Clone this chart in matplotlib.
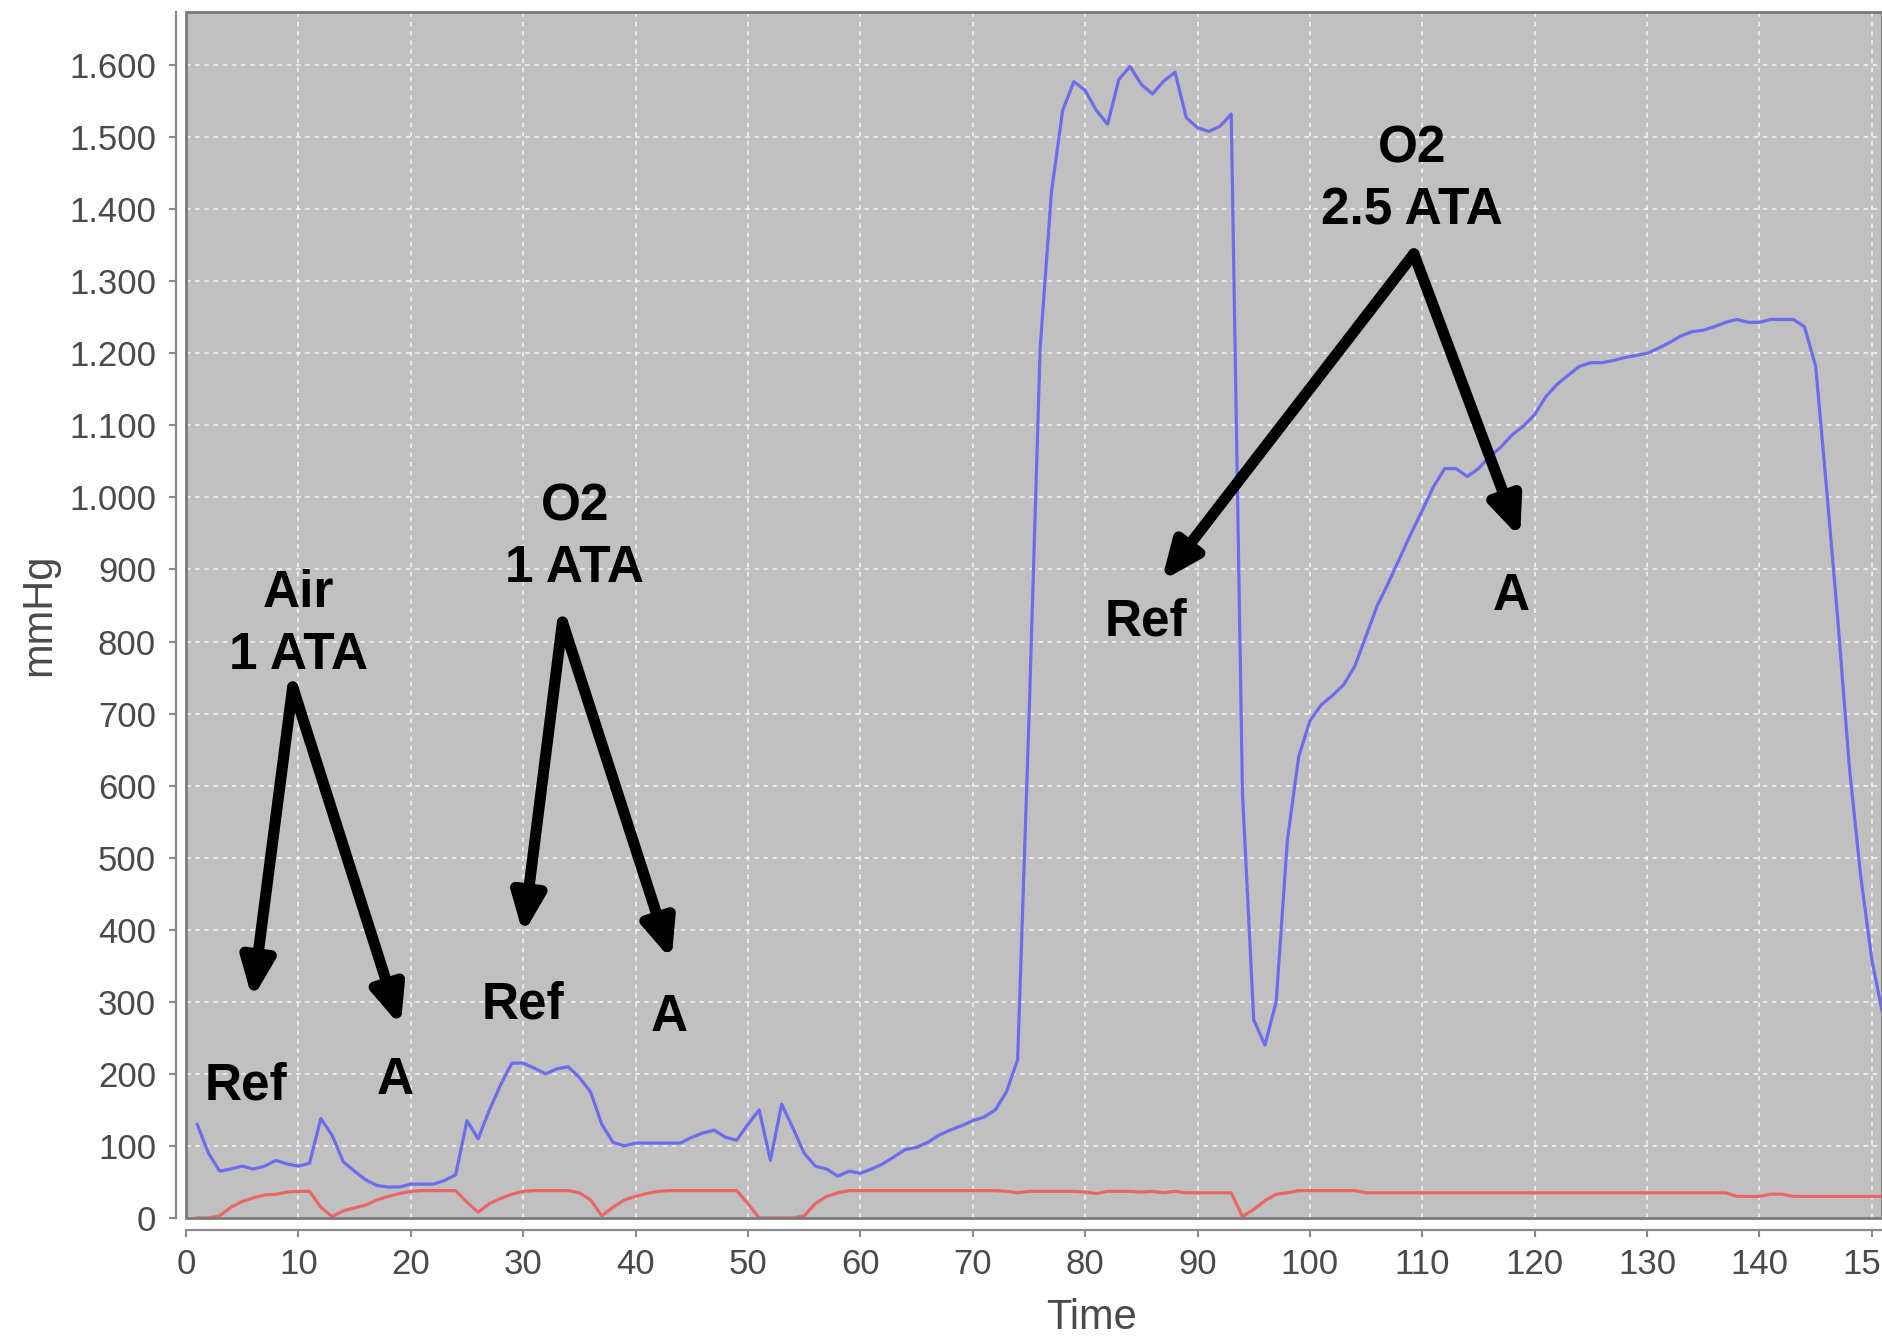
#!/usr/bin/env python

import numpy as np
import matplotlib.pyplot as plt
from matplotlib.patches import Rectangle
from matplotlib.ticker import FuncFormatter, MultipleLocator

# time steps 1..151
time = np.arange(1, 152)

blue = [130, 90, 65, 68, 72, 68, 72, 80, 75, 72,
        76, 138, 115, 78, 65, 53, 45, 43, 43, 47,
        47, 47, 52, 60, 135, 110, 150, 185, 215, 215,
        208, 200, 207, 210, 195, 175, 130, 105, 100, 104,
        104, 104, 104, 104, 112, 118, 122, 112, 108, 130,
        150, 80, 158, 125, 90, 72, 68, 58, 65, 62,
        68, 75, 85, 95, 98, 105, 115, 122, 128, 135,
        140, 150, 175, 220, 690, 1207, 1423, 1537, 1577, 1565,
        1537, 1518, 1580, 1598, 1573, 1560, 1578, 1590, 1527, 1513,
        1508, 1515, 1532, 590, 275, 240, 300, 525, 640, 690,
        712, 725, 740, 766, 808, 850, 882, 916, 950, 982,
        1015, 1040, 1040, 1029, 1040, 1057, 1070, 1087, 1099, 1115,
        1140, 1157, 1170, 1182, 1187, 1187, 1190, 1194, 1197, 1200,
        1207, 1215, 1224, 1230, 1232, 1237, 1243, 1247, 1243, 1243,
        1247, 1247, 1247, 1237, 1182, 1007, 824, 625, 475, 358,
        280]

red = [0, 0, 3, 15, 23, 28, 32, 33, 36, 37,
       37, 15, 2, 10, 14, 18, 25, 30, 34, 37,
       38, 38, 38, 38, 22, 8, 20, 27, 33, 37,
       38, 38, 38, 38, 35, 25, 3, 15, 25, 30,
       34, 37, 38, 38, 38, 38, 38, 38, 38, 20,
       0, 0, 0, 0, 3, 20, 30, 35, 38, 38,
       38, 38, 38, 38, 38, 38, 38, 38, 38, 38,
       38, 38, 37, 35, 37, 37, 37, 37, 37, 36,
       34, 37, 37, 37, 36, 37, 35, 37, 35, 35,
       35, 35, 35, 2, 12, 24, 33, 35, 38, 38,
       38, 38, 38, 38, 35, 35, 35, 35, 35, 35,
       35, 35, 35, 35, 35, 35, 35, 35, 35, 35,
       35, 35, 35, 35, 35, 35, 35, 35, 35, 35,
       35, 35, 35, 35, 35, 35, 35, 30, 30, 30,
       33, 33, 30, 30, 30, 30, 30, 30, 30, 30,
       30]

# annotation groups: (title, title_pos, arrow_start, ref_tip, a_tip, ref_pos, a_pos)
notes = [
    ('Air\n1 ATA', (10.0, 824), (9.5, 737), (5.9, 304), (19.1, 266), (5.3, 183), (18.6, 191)),
    ('O2\n1 ATA', (34.6, 944), (33.5, 827), (30.0, 394), (43.2, 358), (30.0, 296), (43.0, 278)),
    ('O2\n2.5 ATA', (109.1, 1441), (109.25, 1338), (86.8, 884), (118.7, 944), (85.4, 827), (117.9, 862)),
]

fig = plt.figure(figsize=(18.82, 13.37), dpi=100)
ax = fig.add_axes([0.0988, 0.089, 0.9012, 0.902])
ax.set_facecolor('#c0c0c0')

ax.plot(time, blue, color='#6c6cec', lw=2.3, zorder=3)
ax.plot(time, red, color='#ea6666', lw=2.3, zorder=3)

ax.set_xlim(0, 150.9)
ax.set_ylim(0, 1673.6)
ax.xaxis.set_major_locator(MultipleLocator(10))
ax.yaxis.set_major_locator(MultipleLocator(100))
ax.yaxis.set_major_formatter(FuncFormatter(lambda v, p: '{:,}'.format(int(v)).replace(',', '.')))

ax.grid(True, color='white', lw=1.1, ls=(0, (3, 3)), alpha=0.85, zorder=1)
ax.set_axisbelow(True)

for s in ['top', 'right']:
    ax.spines[s].set_visible(False)
ax.spines['left'].set_position(('outward', 7.5))
ax.spines['bottom'].set_position(('outward', 8.5))
for s in ['left', 'bottom']:
    ax.spines[s].set_color('#8a8a8a')
    ax.spines[s].set_linewidth(1.6)

# frame around the plot area
ax.add_patch(Rectangle((0, 0), 1, 1, transform=ax.transAxes, fill=False,
                       edgecolor='#7a7a7a', lw=2.0, clip_on=False, zorder=4))

ax.tick_params(axis='both', colors='#8a8a8a', length=5, width=1.5,
               labelsize=25, labelcolor='#4a4a4a')
ax.tick_params(axis='y', pad=9)
ax.tick_params(axis='x', pad=8)
for lab in ax.get_xticklabels() + ax.get_yticklabels():
    lab.set_family('Liberation Sans')

ax.set_xlabel('Time', fontsize=30, color='#4a4a4a', family='Liberation Sans')
ax.set_ylabel('mmHg', fontsize=30, color='#4a4a4a', family='Liberation Sans')
ax.xaxis.set_label_coords(0.534, -0.066)
ax.yaxis.set_label_coords(-0.0745, 0.5)

arrow_style = dict(arrowstyle='-|>,head_length=0.75,head_width=0.32',
                   color='black', lw=8, mutation_scale=30,
                   shrinkA=0, shrinkB=0)
txt = dict(fontsize=37, fontweight='bold', family='Liberation Sans',
           ha='center', va='center', color='black', zorder=6)

for title, tpos, start, ref_tip, a_tip, ref_pos, a_pos in notes:
    ax.text(tpos[0], tpos[1], title, linespacing=1.34, **txt)
    ax.annotate('', xy=ref_tip, xytext=start, arrowprops=arrow_style, zorder=5)
    ax.annotate('', xy=a_tip, xytext=start, arrowprops=arrow_style, zorder=5)
    ax.text(ref_pos[0], ref_pos[1], 'Ref', **txt)
    ax.text(a_pos[0], a_pos[1], 'A', **txt)

fig.savefig('out.png', dpi=100)
